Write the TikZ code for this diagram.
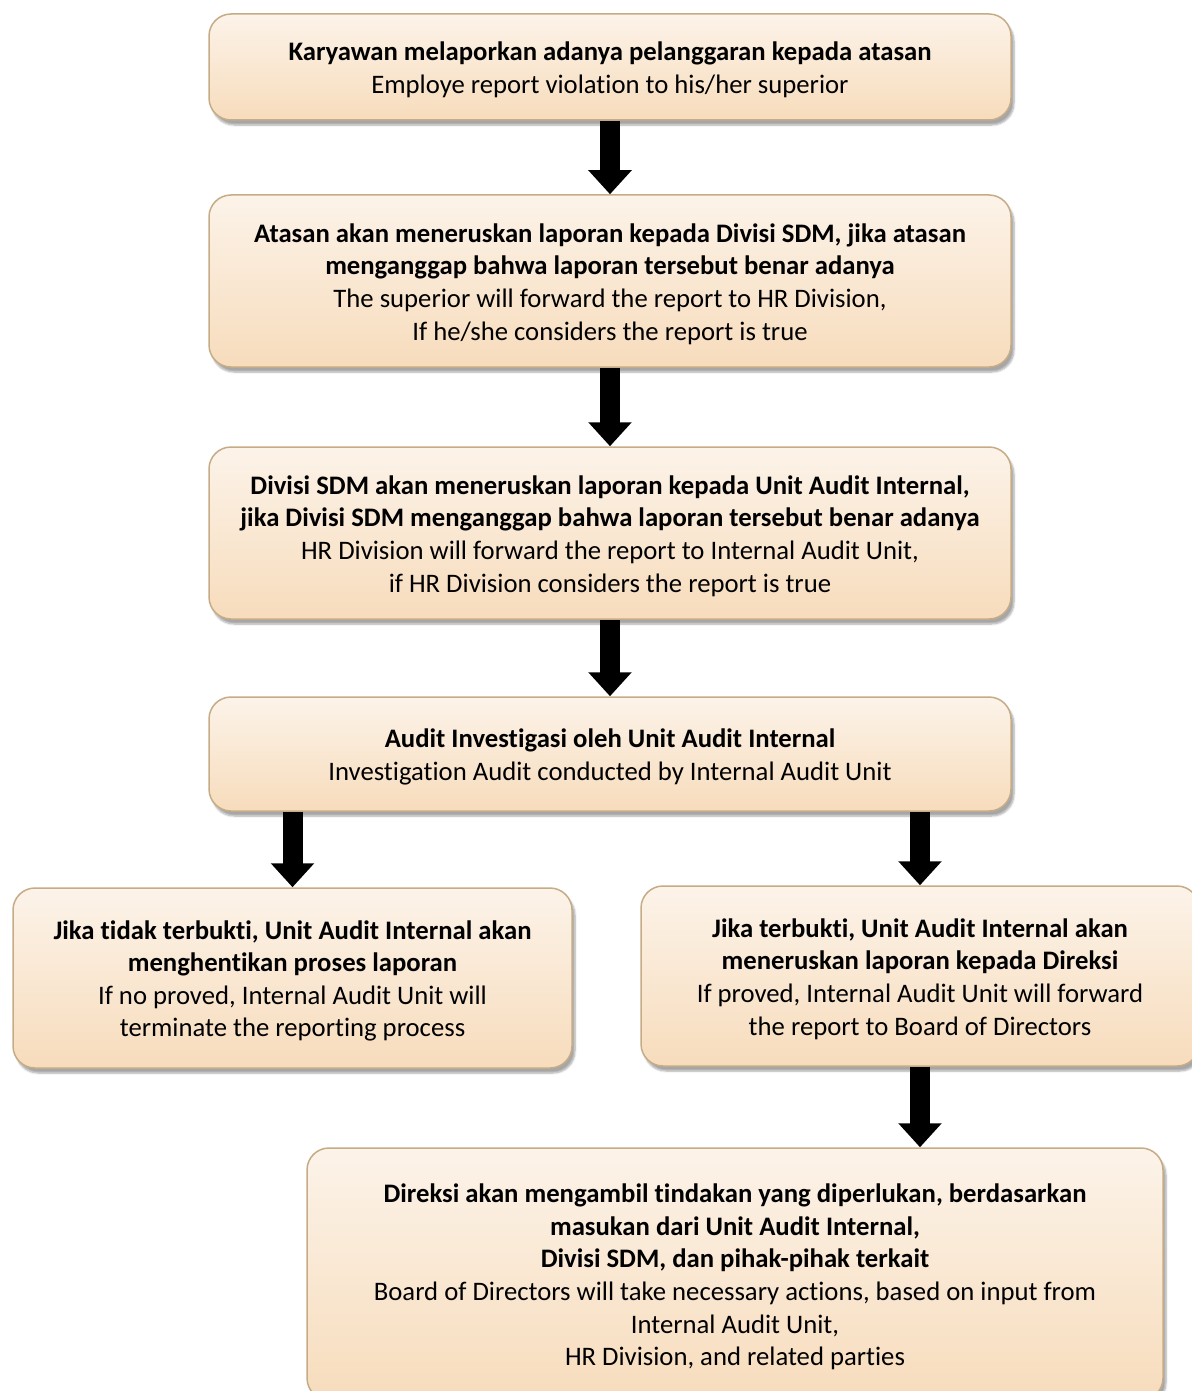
\documentclass[tikz,border=0pt]{standalone}
\usepackage{fontspec}
\setmainfont{Carlito}[Ligatures=NoCommon]
\usetikzlibrary{shadows.blur,arrows.meta,calc}
\definecolor{boxtop}{HTML}{FCF3E9}
\definecolor{boxbot}{HTML}{F7DCBC}
\definecolor{boxedge}{HTML}{C6AC86}
\tikzset{
  flowbox/.style={draw=boxedge, line width=1.5pt, rounded corners=22pt,
    top color=boxtop, bottom color=boxbot, inner sep=0pt,
    blur shadow={shadow xshift=3pt, shadow yshift=-5pt, shadow blur steps=6, shadow opacity=35}},
  flowtext/.style={align=center, inner sep=0pt, yshift=-3pt,
    font=\fontsize{26.7}{32.6}\selectfont},
  blockarrow/.style={line width=20pt, -{Triangle[width=42pt,length=24pt]}}
}
\begin{document}
\begin{tikzpicture}[x=1pt,y=-1pt]
\useasboundingbox (0,0) rectangle (1191,1391);
\node[flowbox, minimum width=802pt, minimum height=106pt] (b1) at (610,67) {};
\node[flowtext] (t1) at (b1.center)
  {\textbf{Karyawan melaporkan adanya pelanggaran kepada atasan}\\Employe report violation to his/her superior};
\node[flowbox, minimum width=802pt, minimum height=172pt] (b2) at (610,281) {};
\node[flowtext] (t2) at (b2.center)
  {\textbf{Atasan akan meneruskan laporan kepada Divisi SDM, jika atasan}\\\textbf{menganggap bahwa laporan tersebut benar adanya}\\The superior will forward the report to HR Division,\\If he/she considers the report is true};
\node[flowbox, minimum width=802pt, minimum height=172pt] (b3) at (610,533) {};
\node[flowtext] (t3) at (b3.center)
  {\textbf{Divisi SDM akan meneruskan laporan kepada Unit Audit Internal,}\\\textbf{jika Divisi SDM menganggap bahwa laporan tersebut benar adanya}\\HR Division will forward the report to Internal Audit Unit,\\if HR Division considers the report is true};
\node[flowbox, minimum width=802pt, minimum height=114pt] (b4) at (610,754) {};
\node[flowtext] (t4) at (b4.center)
  {\textbf{Audit Investigasi oleh Unit Audit Internal}\\Investigation Audit conducted by Internal Audit Unit};
\node[flowbox, minimum width=559pt, minimum height=180pt] (b5) at (292.5,978) {};
\node[flowtext] (t5) at (b5.center)
  {\textbf{Jika tidak terbukti, Unit Audit Internal akan}\\\textbf{menghentikan proses laporan}\\If no proved, Internal Audit Unit will\\terminate the reporting process};
\node[flowbox, minimum width=558pt, minimum height=180pt] (b6) at (920,976) {};
\node[flowtext] (t6) at (b6.center)
  {\textbf{Jika terbukti, Unit Audit Internal akan}\\\textbf{meneruskan laporan kepada Direksi}\\If proved, Internal Audit Unit will forward\\the report to Board of Directors};
\node[flowbox, minimum width=856pt, minimum height=252pt] (b7) at (735,1274) {};
\node[flowtext] (t7) at (b7.center)
  {\textbf{Direksi akan mengambil tindakan yang diperlukan, berdasarkan}\\\textbf{masukan dari Unit Audit Internal,}\\\textbf{Divisi SDM, dan pihak-pihak terkait}\\Board of Directors will take necessary actions, based on input from\\Internal Audit Unit,\\HR Division, and related parties};
\draw[blockarrow] (b1.south) -- (b2.north);
\draw[blockarrow] (b2.south) -- (b3.north);
\draw[blockarrow] (b3.south) -- (b4.north);
\draw[blockarrow] (b4.south -| b5.north) -- (b5.north);
\draw[blockarrow] (b4.south -| b6.north) -- (b6.north);
\draw[blockarrow] (b6.south) -- (b6.south |- b7.north);
\end{tikzpicture}
\end{document}
